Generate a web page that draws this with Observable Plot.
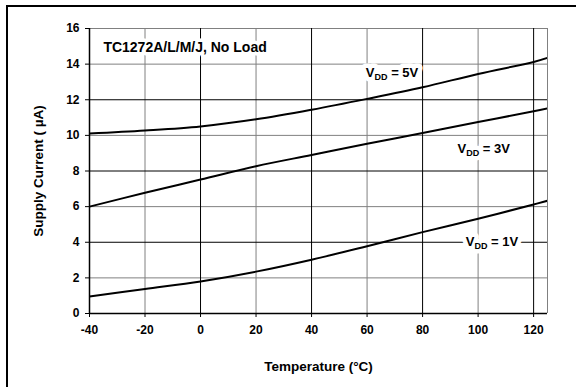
<!DOCTYPE html>
<html>
<head>
<meta charset="utf-8">
<script src="https://cdn.jsdelivr.net/npm/d3@7"></script>
<script src="https://cdn.jsdelivr.net/npm/@observablehq/plot@0.6"></script>
<style>
  html, body { margin: 0; padding: 0; background: #fff; }
  #wrap { position: relative; width: 576px; height: 387px; overflow: hidden; }
  #wrap::before { content: ""; position: absolute; left: 6px; top: 5px; right: -20px; bottom: -20px;
    border-left: 2.5px solid #000; border-top: 2.5px solid #000; pointer-events: none; z-index: 2; }
  svg { font-family: "Liberation Sans", Arial, sans-serif; }
</style>
</head>
<body>
<div id="wrap"></div>
<script>
const temps = [-40, -20, 0, 20, 40, 60, 80, 100, 120, 125];
const iVdd5 = [10.1, 10.27, 10.5, 10.9, 11.44, 12.05, 12.7, 13.45, 14.12, 14.35];
const iVdd3 = [6.0, 6.78, 7.52, 8.27, 8.9, 9.53, 10.13, 10.75, 11.35, 11.52];
const iVdd1 = [0.96, 1.38, 1.8, 2.35, 3.02, 3.78, 4.57, 5.32, 6.12, 6.33];
const xTicks = [-40, -20, 0, 20, 40, 60, 80, 100, 120];
const yTicks = [0, 2, 4, 6, 8, 10, 12, 14, 16];
const xGridDark = [0, 40, 80, 120];
const xGridLight = [-20, 20, 60, 100];
const yGridDark = [4, 8, 12];
const yGridLight = [2, 6, 10, 14, 16];
const seriesNames = ["VDD = 5V", "VDD = 3V", "VDD = 1V"];
const labelX = [69, 102, 105];
const labelY = [13.5, 9.27, 4.0];
const titleText = "TC1272A/L/M/J, No Load";

const rows = [];
[iVdd5, iVdd3, iVdd1].forEach((arr, k) => {
  temps.forEach((t, i) => rows.push({series: seriesNames[k], t, v: arr[i]}));
});
const labels = seriesNames.map((s, k) => ({s, x: labelX[k], y: labelY[k]}));

const plot = Plot.plot({
  width: 576,
  height: 387,
  marginLeft: 89,
  marginRight: 29,
  marginTop: 28,
  marginBottom: 74,
  style: {fontFamily: "Liberation Sans, Arial, sans-serif", fontWeight: "bold", fontSize: "11px", color: "#000", background: "transparent"},
  x: {domain: [-40, 125]},
  y: {domain: [0, 16]},
  marks: [
    Plot.ruleX(xGridLight, {stroke: "#808080", strokeWidth: 1}),
    Plot.ruleY(yGridLight, {stroke: "#808080", strokeWidth: 1}),
    Plot.ruleX([125], {stroke: "#808080", strokeWidth: 1}),
    Plot.ruleX(xGridDark, {stroke: "#000", strokeWidth: 1}),
    Plot.ruleY(yGridDark, {stroke: "#000", strokeWidth: 1}),
    Plot.line(rows, {x: "t", y: "v", z: "series", stroke: "#000", strokeWidth: 2, curve: "catmull-rom", clip: true}),
    Plot.text(labels, {x: "x", y: "y", text: "s", className: "vdd", fontSize: 13, fontWeight: "bold", fill: "white", stroke: "white", strokeWidth: 9, textAnchor: "middle"}),
    Plot.text(labels, {x: "x", y: "y", text: "s", className: "vdd", fontSize: 13, fontWeight: "bold", fill: "#000", textAnchor: "middle"}),
    Plot.text([titleText], {x: -35, y: 14.95, text: d => d, fontSize: 14, fontWeight: "bold", fill: "white", stroke: "white", strokeWidth: 7, textAnchor: "start"}),
    Plot.text([titleText], {x: -35, y: 14.95, text: d => d, fontSize: 14, fontWeight: "bold", fill: "#000", textAnchor: "start"}),
    Plot.ruleY([0], {stroke: "#000", strokeWidth: 1.5}),
    Plot.ruleX([-40], {stroke: "#000", strokeWidth: 1.5}),
    Plot.axisX({ticks: xTicks, tickSize: 4, tickPadding: 8, tickFormat: d => String(d), fontSize: 12, fontWeight: "bold",
      label: "Temperature (°C)", labelAnchor: "center", labelArrow: "none", labelOffset: 57}),
    Plot.axisY({ticks: yTicks, tickSize: 4, tickPadding: 6, tickFormat: d => String(d), fontSize: 12, fontWeight: "bold",
      label: "Supply Current ( µA)", labelAnchor: "center", labelArrow: "none", labelOffset: 56})
  ]
});

d3.select(plot).selectAll("g.vdd text").each(function() {
  const t = this.textContent;
  const rest = t.slice(3);
  const sel = d3.select(this);
  sel.text(null);
  sel.append("tspan").text("V");
  sel.append("tspan").attr("dy", 3).attr("font-size", 9).text("DD");
  sel.append("tspan").attr("dy", -3).text(rest);
});
d3.select(plot).selectAll("[aria-label='x-axis label'] text, [aria-label='y-axis label'] text").attr("font-size", 13.5);

document.getElementById("wrap").appendChild(plot);
</script>
</body>
</html>
